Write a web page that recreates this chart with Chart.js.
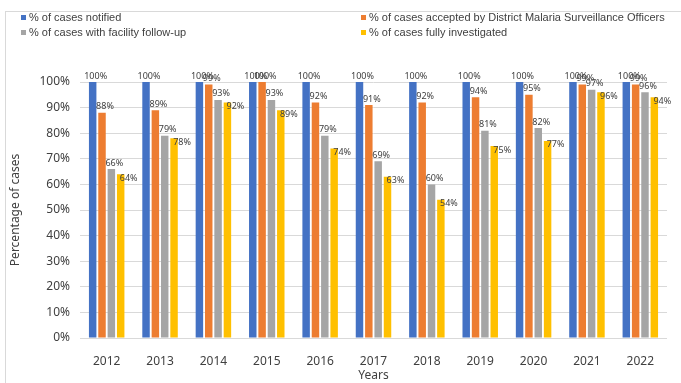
<!DOCTYPE html>
<html lang="en">
<head>
  <meta charset="UTF-8" />
  <title>Case follow-up by year</title>
  <script src="https://cdn.jsdelivr.net/npm/chart.js"></script>
  <style>
    html, body {
      margin: 0;
      padding: 0;
      background: #ffffff;
      overflow: hidden;
    }
    .frame {
      position: absolute;
      left: 5px;
      top: 11px;
      width: 700px;
      height: 400px;
      border-left: 1px solid #d9d9d9;
      border-top: 1px solid #d9d9d9;
    }
    #chart {
      position: absolute;
      left: 0;
      top: 0;
    }
    /* two-column legend above the plot */
    .legend {
      position: absolute;
      left: 21px;
      top: 10px;
      display: grid;
      grid-template-columns: 340px auto;
      row-gap: 1px;
      font-family: 'Liberation Sans', sans-serif;
      font-size: 11px;
      color: #404040;
      line-height: 14px;
    }
    .legend-item {
      display: flex;
      align-items: center;
      white-space: nowrap;
    }
    .legend-box {
      width: 5px;
      height: 5px;
      margin-right: 3px;
    }
  </style>
</head>
<body>
  <div class="frame"></div>
  <canvas id="chart" width="681" height="383"></canvas>
  <div class="legend" id="legend"></div>

  <script>
    const years = ['2012', '2013', '2014', '2015', '2016', '2017', '2018', '2019', '2020', '2021', '2022'];
    const notified = [100, 100, 100, 100, 100, 100, 100, 100, 100, 100, 100];
    const accepted = [88, 89, 99, 100, 92, 91, 92, 94, 95, 99, 99];
    const facility = [66, 79, 93, 93, 79, 69, 60, 81, 82, 97, 96];
    const investigated = [64, 78, 92, 89, 74, 63, 54, 75, 77, 96, 94];

    const seriesNames = [
      '% of cases notified',
      '% of cases accepted by District Malaria Surveillance Officers',
      '% of cases with facility follow-up',
      '% of cases fully investigated'
    ];
    const seriesColors = ['#4472C4', '#ED7D31', '#A5A5A5', '#FFC000'];

    // value labels over each bar; the last series sits beside its bar
    const barLabels = {
      id: 'barLabels',
      afterDatasetsDraw(chart) {
        const ctx = chart.ctx;
        ctx.save();
        ctx.font = '9px "Noto Sans", sans-serif';
        ctx.fillStyle = '#404040';
        ctx.textAlign = 'center';
        ctx.textBaseline = 'middle';
        chart.data.datasets.forEach((ds, i) => {
          const meta = chart.getDatasetMeta(i);
          meta.data.forEach((bar, j) => {
            const dx = i === 3 ? 8 : 3;
            const dy = i === 3 ? 4 : -6;
            ctx.fillText(ds.data[j] + '%', bar.x + dx, bar.y + dy);
          });
        });
        ctx.restore();
      }
    };

    const datasets = [notified, accepted, facility, investigated].map((values, i) => ({
      label: seriesNames[i],
      data: values,
      backgroundColor: seriesColors[i],
      categoryPercentage: 0.7,
      barPercentage: 0.8
    }));

    const chart = new Chart(document.getElementById('chart'), {
      type: 'bar',
      data: { labels: years, datasets: datasets },
      options: {
        responsive: false,
        animation: false,
        devicePixelRatio: 1,
        layout: { padding: { left: 8, top: 82, right: 14, bottom: 0 } },
        plugins: {
          legend: { display: false },
          tooltip: { enabled: false }
        },
        scales: {
          x: {
            grid: { display: false },
            border: { display: false },
            ticks: {
              padding: 8,
              color: '#404040',
              font: { family: 'Noto Sans', size: 12 }
            },
            title: {
              display: true,
              text: 'Years',
              color: '#404040',
              padding: 0,
              font: { family: 'Noto Sans', size: 12 }
            },
            afterFit: s => { s.height = 45; }
          },
          y: {
            min: 0,
            max: 100,
            grid: { color: '#d9d9d9', drawTicks: false },
            border: { display: false },
            ticks: {
              stepSize: 10,
              padding: 10,
              color: '#404040',
              font: { family: 'Noto Sans', size: 12 },
              callback: v => v + '%'
            },
            title: {
              display: true,
              text: 'Percentage of cases',
              color: '#404040',
              padding: 0,
              font: { family: 'Noto Sans', size: 12 }
            },
            afterFit: s => { s.width = 72; }
          }
        }
      },
      plugins: [barLabels]
    });

    // legend laid out as two columns: row 1 holds series 0 and 1, row 2 holds 2 and 3
    const legendEl = document.getElementById('legend');
    chart.data.datasets.forEach(ds => {
      const item = document.createElement('div');
      item.className = 'legend-item';
      const box = document.createElement('span');
      box.className = 'legend-box';
      box.style.background = ds.backgroundColor;
      item.appendChild(box);
      item.appendChild(document.createTextNode(ds.label));
      legendEl.appendChild(item);
    });
  </script>
</body>
</html>
